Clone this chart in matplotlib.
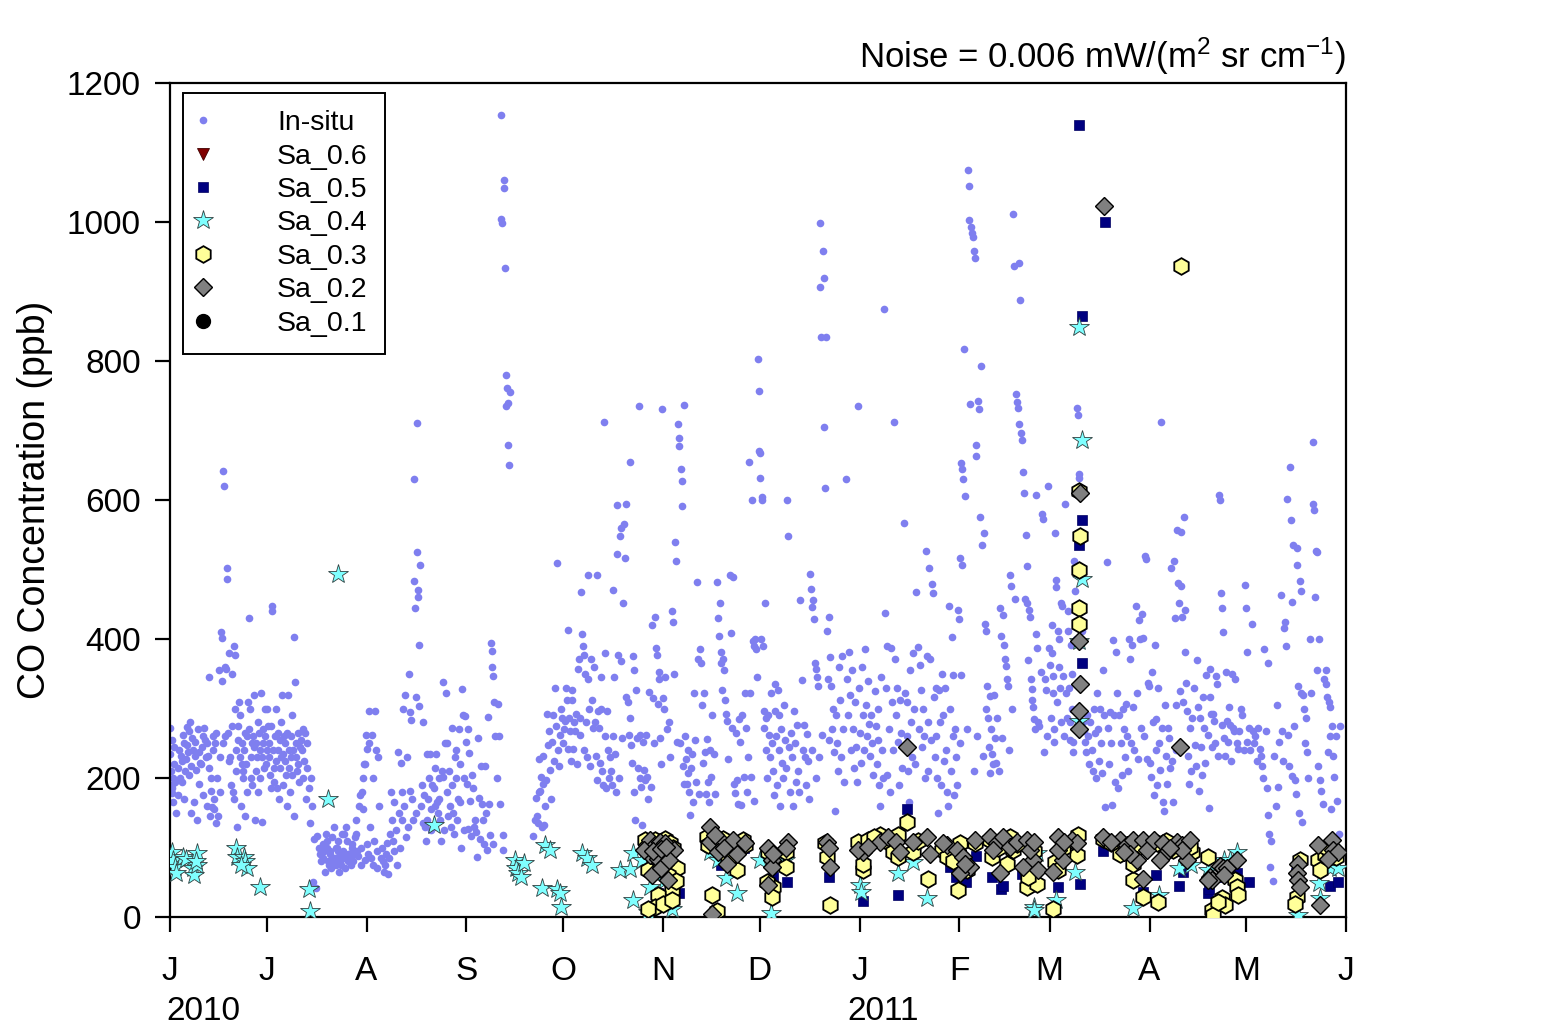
import datetime as dt
import matplotlib
matplotlib.use("Agg")
import matplotlib.pyplot as plt
import matplotlib.dates as mdates

plt.rcParams['font.family'] = ['Liberation Sans', 'DejaVu Sans']
plt.rcParams['mathtext.fontset'] = 'custom'
plt.rcParams['mathtext.rm'] = 'Liberation Sans'
plt.rcParams['mathtext.it'] = 'Liberation Sans:italic'

START = dt.datetime(2010, 6, 1)
END = dt.datetime(2011, 6, 1)

# ---------------- In-situ CO (ppb): (day offset from 2010-06-01, [values that day]) ----------------
insitu_jun = [
    (0.3, [272, 235, 210, 190, 178]), (0.8, [255, 200]), (1, [185, 165, 245, 220]), (2, [195, 150, 175]),
    (3, [215, 240, 200, 232]), (4, [225, 195, 262, 170, 250]), (5, [210, 228, 248, 273]),
    (6, [238, 205, 268, 280, 150]), (7, [218, 258, 240, 165]), (8, [232, 252, 212, 140]),
    (9, [270, 238, 192, 222]), (10, [220, 245, 260, 175]), (11, [272, 255, 230, 160]),
    (12, [250, 232, 215, 346, 145]), (13, [200, 182, 158, 240, 260]), (14, [155, 170, 250, 265, 135]),
    (15, [200, 145, 355, 230]), (16, [180, 410, 402, 340, 250]), (17, [642, 620, 260, 360, 357]),
    (18, [502, 487, 265, 225, 380]), (19, [230, 190, 350, 275]), (20, [180, 170, 390, 377, 300, 210]),
    (21, [240, 130, 275, 255, 309]), (22, [230, 290, 160, 220, 250]), (23, [210, 200, 240, 265, 145]),
    (24, [220, 180, 260, 310, 431]), (25, [270, 300, 230, 200, 250]), (26, [190, 260, 245, 320, 140]),
    (27, [250, 210, 230, 280, 180]), (28, [265, 240, 200, 323, 137]), (29, [230, 250, 270, 215, 300]),
]
insitu_jul = [
    (30, [260, 220, 300, 240, 275]), (31, [230, 250, 205, 275, 185]), (32, [447, 440, 240, 215, 195]),
    (33, [260, 225, 300, 185, 265]), (34, [240, 170, 215, 255, 230]), (35, [280, 319, 235, 190, 260]),
    (36, [250, 225, 205, 265, 160]), (37, [320, 240, 215, 180, 230]), (38, [260, 205, 290, 240, 145]),
    (39, [403, 338, 250, 230, 210]), (40, [265, 220, 195, 245]), (41, [255, 240, 200, 270]),
    (42, [225, 265, 170, 250]), (43, [215, 185, 135]), (44, [200, 160, 50]), (45, [112, 42]),
    (46, [117, 100]), (47, [90, 80, 105]), (48, [85, 95, 65, 120]), (49, [100, 110, 80, 75]),
    (50, [90, 95, 70, 115, 85]), (51, [80, 130, 85, 100]), (52, [75, 100, 95, 110, 65]),
    (53, [90, 80, 75, 120]), (54, [95, 85, 120, 70]), (55, [130, 110, 80, 90]), (56, [90, 85, 75, 105]),
    (57, [100, 80, 90, 115]), (58, [140, 120, 95, 88]), (59, [160, 175, 100, 75]),
    (60, [180, 200, 155, 220, 82]),
]
insitu_aug = [
    (61, [220, 262, 242, 105, 90]), (62, [297, 250, 130, 85]), (63, [262, 200, 75, 110]),
    (64, [297, 240, 95, 70]), (65, [230, 160, 85]), (66, [100, 80, 65]), (67, [75, 90, 107]),
    (68, [62, 85, 120]), (69, [180, 140, 110, 95]), (70, [165, 125, 75]), (71, [237, 150, 100]),
    (72, [222, 180, 140, 300]), (73, [160, 320, 115]), (74, [230, 130, 350, 182]),
    (75, [295, 283, 170, 140]), (76, [631, 483, 444, 317, 150]), (77, [711, 525, 470, 460, 392, 303]),
    (78, [507, 160, 190, 135]), (79, [281, 175, 130, 110]), (80, [235, 140, 170, 200]),
    (81, [235, 155, 125, 190]), (82, [130, 185, 215, 160]), (83, [235, 165, 150, 200]),
    (84, [170, 140, 110, 210]), (85, [338, 202, 125, 250]), (86, [322, 250, 180, 145]),
    (87, [210, 160, 130, 272]), (88, [190, 150, 120, 230]), (89, [240, 200, 140, 170]),
    (90, [270, 220, 165, 100]), (91, [328, 290, 200, 125]),
]
insitu_sep = [
    (92, [289, 252, 192, 127]), (93, [271, 236, 167, 116]), (94, [205, 186, 130]), (95, [140, 122, 87]),
    (96, [257, 172, 112]), (97, [218, 163, 140, 105]), (98, [218, 150, 97]), (99, [288, 162, 118]),
    (100, [395, 383, 360, 347, 105]), (101, [310, 260, 200]), (102, [306, 260, 162]),
    (103, [1154, 1004, 998, 118, 97]), (104, [1060, 1049, 934, 735, 780]), (105, [761, 740, 679, 650, 756]),
    (113, [117, 140]), (114, [172, 145, 135, 227]), (115, [180, 182, 202, 130]),
    (116, [231, 192, 132, 160]), (117, [197, 292, 247]), (118, [267, 212, 170]), (119, [252, 290, 225]),
    (120, [330, 275, 510, 240]), (121, [217, 262, 300]),
]
insitu_oct = [
    (122, [287, 250, 270]), (123, [282, 330, 312, 242]), (124, [413, 287, 267, 225]),
    (125, [312, 327, 242, 280]), (126, [267, 292, 220]), (127, [357, 372, 262, 287]),
    (128, [468, 407, 390, 240]), (129, [377, 350, 280, 230]), (130, [492, 342, 300, 217]),
    (131, [372, 312, 272]), (132, [360, 280, 232, 197]), (133, [492, 297, 272, 222]),
    (134, [345, 300, 210, 190]), (135, [712, 380, 260, 185]), (136, [297, 240, 200]),
    (137, [230, 210, 190, 260]), (138, [470, 345, 235, 180]), (139, [593, 522, 377, 200]),
    (140, [548, 560, 368, 257]), (141, [452, 565, 516, 317]), (142, [594, 310, 262]),
    (143, [655, 287, 247, 222]), (144, [375, 355, 180, 140]), (145, [326, 257, 215]),
    (146, [736, 262, 200, 187, 132]), (147, [252, 212, 197]), (148, [262, 202, 170]),
    (149, [324, 187]), (150, [420, 315, 250]), (151, [432, 387, 377, 307]), (152, [352, 342, 257, 220]),
]
insitu_nov = [
    (153, [731, 315, 300]), (154, [345, 270]), (155, [280, 230]), (156, [440, 425, 350]),
    (157, [540, 512, 252]), (158, [709, 690, 678, 250]), (159, [645, 627, 592, 217, 192]),
    (160, [737, 260, 227, 192]), (161, [207, 240, 180, 147]), (162, [215, 235, 165]),
    (163, [322, 255, 195]), (164, [482, 372, 177]), (165, [385, 365, 305, 222]), (166, [322, 237, 177]),
    (167, [256, 195, 165]), (168, [240, 202, 291]), (169, [235, 177]), (170, [482, 430, 405]),
    (171, [452, 382, 365, 327]), (172, [372, 355, 312]), (173, [292, 282, 227]), (174, [492, 409, 272]),
    (175, [489, 192, 178]), (176, [265, 197, 162]), (177, [285, 252, 161]), (178, [290, 202, 322]),
    (179, [272, 180, 230]), (180, [655, 322, 202]), (181, [600, 397, 390, 167]), (182, [400, 385, 345]),
]
insitu_dec = [
    (183, [803, 757, 670, 667, 632, 400]), (184, [605, 600, 390, 297, 272]), (185, [452, 287, 240, 200]),
    (186, [290, 262, 230]), (187, [322, 250, 210, 175]), (188, [335, 297, 260, 190]),
    (189, [327, 290, 240, 160]), (190, [270, 222, 200]), (191, [305, 255, 215]),
    (192, [600, 548, 245, 180]), (193, [265, 230, 160]), (194, [297, 250, 195]), (195, [277, 210, 180]),
    (196, [456, 341, 240]), (197, [277, 230, 190]), (198, [263, 225, 170]), (199, [493, 472, 446, 240]),
    (200, [456, 429, 365, 200]), (201, [357, 345, 333, 230]), (202, [998, 907, 834, 262]),
    (203, [958, 919, 705, 617]), (204, [834, 411, 342, 255]), (205, [432, 374, 333, 270]),
    (206, [300, 237, 152]), (207, [290, 250, 210]), (208, [360, 312, 230]), (209, [375, 270, 195]),
    (210, [631, 342, 290]), (211, [382, 320, 240]), (212, [355, 270, 215]), (213, [310, 245, 195]),
]
insitu_jan = [
    (214, [735, 330, 265, 222]), (215, [360, 290, 240]), (216, [385, 305, 260]), (217, [340, 278, 232]),
    (218, [290, 250, 205]), (219, [325, 275, 220]), (220, [300, 255, 190, 160]), (221, [345, 240, 200]),
    (222, [875, 437, 330, 205]), (223, [390, 270, 180]), (224, [387, 310, 240]), (225, [712, 372, 290]),
    (226, [330, 252, 190]), (227, [313, 265, 215]), (228, [567, 323, 245]), (229, [310, 260, 210, 165]),
    (230, [355, 280, 230]), (231, [380, 300, 220]), (232, [468, 388, 270]), (233, [362, 327, 245]),
    (234, [300, 260, 200]), (235, [527, 375, 280, 210]), (236, [502, 371, 255]),
    (237, [479, 466, 316, 230]), (238, [330, 260, 200, 150]), (239, [326, 280, 190]),
    (240, [350, 290, 225]), (241, [330, 240, 180, 160]), (242, [447, 300, 210]),
    (243, [403, 348, 260, 175]), (244, [270, 230, 190]),
]
insitu_feb = [
    (245, [442, 429, 250, 348]), (245.5, [517, 507]), (246, [654, 645, 630, 818]), (247, [606, 270]),
    (248, [1075, 1052, 1003, 738]), (249, [993, 984, 978, 210]), (250, [958, 948, 679, 664, 260]),
    (251, [742, 731, 575]), (252, [793, 535, 232]), (253, [552, 422, 412, 300]),
    (254, [332, 287, 245, 207]), (255, [318, 270, 235, 220]), (256, [320, 257, 222]), (257, [287, 210]),
    (258, [445, 405, 257]), (259, [435, 392, 372, 361]), (260, [342, 332, 240]),
    (261, [492, 477, 300]), (262, [1011, 937, 458]), (263, [753, 741, 733, 709]),
    (264, [941, 888, 697, 686]), (265, [641, 610, 458]), (266, [550, 505, 452, 370]),
    (267, [442, 432, 342, 328]), (268, [313, 302, 285, 270]), (269, [607, 407, 387, 280]),
    (270, [275, 352]), (271, [580, 573, 237]), (272, [342, 327, 260]),
]
insitu_mar = [
    (273, [620, 387, 362, 287]), (274, [420, 380, 347, 322, 270, 252]), (275, [552, 485, 475, 310]),
    (276, [412, 400, 360, 330, 280]), (277, [452, 447, 347, 260]), (278, [595, 322, 287]),
    (279, [440, 412, 330, 280, 255]), (280, [392, 350, 300, 252, 237]), (281, [512, 469, 400]),
    (282, [733, 722, 637, 632, 392]), (283, [502, 412, 280]), (284, [267, 252, 237]),
    (285, [290, 260, 220]), (286, [280, 240, 210]), (287, [300, 265, 200]), (288, [322, 270, 225]),
    (289, [300, 250, 207]), (290, [355, 290, 158]), (291, [511, 272, 220]), (292, [295, 250, 161]),
    (293, [398, 290, 195]), (294, [382, 322, 185]), (295, [290, 250, 205]), (296, [300, 270, 230]),
    (297, [307, 260, 210]), (298, [400, 372, 250]), (299, [392, 302, 240]), (300, [447, 322, 227]),
    (301, [427, 400, 272]), (302, [436, 402, 260]), (303, [520, 515, 227]),
]
insitu_apr = [
    (304, [337, 332, 222, 202]), (305, [352, 280, 175]), (306, [392, 285, 240, 190]),
    (307, [330, 250, 212]), (308, [712, 272, 165, 152]), (309, [305, 232, 192]), (310, [272, 257, 215]),
    (311, [502, 225, 165]), (312, [512, 430, 305, 240]), (313, [557, 481, 452, 325]),
    (314, [554, 477, 432, 310]), (315, [576, 442, 382, 337]), (316, [297, 232, 192]),
    (317, [272, 210, 287]), (318, [330, 247, 217]), (319, [370, 302, 182]), (320, [287, 245, 205]),
    (321, [317, 272, 222]), (322, [348, 262, 157]), (323, [357, 316, 292, 245]), (324, [292, 282, 250]),
    (325, [347, 335, 232]), (326, [607, 600, 466, 277]), (327, [445, 410, 257, 232]),
    (328, [352, 282, 252]), (329, [302, 277, 225]), (330, [350, 272, 267]), (331, [342, 250, 242]),
    (332, [268, 300]), (333, [290, 240]),
]
insitu_may = [
    (334, [478, 445, 382, 252]), (335, [272, 240]), (336, [422, 267, 250]), (337, [260, 225]),
    (338, [272, 242]), (339, [232, 217, 200]), (340, [385, 267, 185]), (341, [365, 147, 120, 72]),
    (342, [110, 52]), (343, [232, 160]), (344, [305, 187, 252]), (345, [463, 267, 225]),
    (346, [416, 425, 390]), (347, [601, 262, 217]), (348, [648, 571, 454, 203]),
    (349, [535, 275, 197, 177]), (350, [531, 506, 332, 150]), (351, [484, 469, 322, 137]),
    (352, [320, 300, 250]), (353, [287, 237, 200]), (354, [400, 322]), (355, [684, 595, 585, 460]),
    (356, [527, 525, 356, 217]), (357, [400, 197, 182]), (358, [162, 343]),
    (359, [356, 335, 317, 237]), (360, [310, 302, 260, 155]), (361, [275, 232, 202]),
    (362, [260, 167]), (363, [120, 275]),
]

# ---------------- Retrievals: (day offset, value ppb) ----------------
sa06 = []
sa05 = [(151.5, 35), (156, 52), (157, 57), (158, 35), (155, 70), (171, 75), (178, 100), (187, 57),
        (191.5, 50), (204.5, 57), (215, 23), (226, 31), (228.7, 155), (244, 57), (247, 50), (250, 88),
        (255, 57), (258, 40), (264.5, 62), (242, 72), (258.5, 44), (275.5, 43), (282.5, 47),
        (282, 1140), (283, 865), (290.3, 1000), (283, 571), (282, 536), (283, 366), (289.5, 95),
        (298.5, 79), (302, 36), (306, 60), (313, 45), (314.5, 65), (322, 35), (322.5, 41), (326.5, 57),
        (331, 64), (335, 50), (349.5, 64), (360, 45), (362.5, 50)]
sa04 = [(0.7, 94), (0.9, 82), (1.5, 72), (2, 63), (4, 87), (5, 84), (7, 70), (7.3, 60), (8.3, 92),
        (8.5, 75), (8, 80), (20.5, 99), (20.8, 87), (23, 87), (23.3, 80), (24, 70), (22, 75), (28, 43),
        (43, 40), (43.5, 9), (49, 170), (52, 493), (82, 132), (107, 82), (107.5, 70), (108, 63),
        (109, 58), (110, 78), (115.5, 42), (116.5, 103), (118, 96), (120, 40), (121, 35), (121.3, 15),
        (128, 92), (129.5, 85), (131, 75), (139.7, 68), (142.8, 69), (143.7, 92), (143.7, 24),
        (146.5, 82), (149, 43), (148.4, 7), (150.5, 62), (155.8, 12), (153.6, 53), (167.5, 93),
        (170, 82), (172.5, 56), (176, 35), (186.5, 6), (183, 82), (191, 82), (214, 46), (214.5, 36),
        (226, 63), (230.5, 79), (235, 27), (268, 15), (268.2, 10), (269, 92), (275, 25), (281, 65),
        (282, 849), (283, 686), (283, 487), (282, 397), (282, 282), (299, 13), (307, 32), (313, 70),
        (317, 75), (322, 67), (327, 82), (329, 82), (331, 93), (350, 3), (357, 27), (356.5, 49),
        (360, 70), (362.5, 70)]
sa03 = [(147.4, 111), (150.5, 111), (153.6, 113), (155.2, 106), (156, 99), (157.2, 70), (155.7, 39),
        (151.5, 31), (150.5, 15), (153, 19), (155.7, 24), (148.4, 67), (153.6, 87), (151.5, 101),
        (149, 95), (152, 80), (154.5, 60), (148.5, 12), (157, 52),
        (166.6, 115), (167, 103), (168.2, 31), (169.7, 8), (176, 67), (173.3, 84), (177.9, 111),
        (171.7, 113), (169.3, 106), (175, 100), (178.5, 104),
        (185.6, 94), (187.2, 43), (186.7, 29), (191.3, 94), (191.3, 72), (185.3, 50),
        (203.9, 87), (204.9, 17), (203.3, 106),
        (213.6, 108), (215.2, 67), (215.2, 77), (216.7, 111), (220.4, 118), (222.8, 108), (226, 118),
        (224.4, 94), (226, 86), (228.7, 137), (230.6, 94), (235.3, 55), (218.5, 115), (232, 110),
        (239.6, 96), (241.2, 87), (245.2, 106), (244.7, 39), (247.3, 67), (249.9, 106), (243, 80),
        (254.5, 111), (255, 87), (259.8, 77), (261.6, 96), (265.9, 43), (269, 48), (266.4, 58),
        (260.7, 115), (263, 105), (257, 100), (268, 95),
        (274, 12), (274.7, 79), (275.7, 67), (281.5, 89), (281.9, 118), (277, 100),
        (282.2, 613), (282.5, 548), (282.2, 500), (282, 445), (282.2, 421),
        (289.6, 113), (294.8, 91), (298.9, 53), (302, 29), (306.6, 22), (298.9, 77), (292, 106), (300, 100),
        (306.3, 106), (311.3, 96), (317.2, 94), (316.6, 101), (309, 110), (313, 104), (313.8, 937),
        (322.2, 87), (323.3, 10), (323.8, 3), (326.5, 27), (327.5, 17), (325.3, 22), (330.5, 53),
        (331.2, 43), (331.5, 31),
        (350.7, 82), (349.8, 29), (349.2, 19), (356.4, 82), (356.9, 67), (358.5, 89), (360, 94),
        (362, 87), (359, 100)]
sa02 = [(148, 103), (149, 111), (150.5, 103), (152, 108), (153.5, 106), (155, 94), (156.5, 96),
        (149, 89), (151.5, 84), (153.5, 77), (149.5, 60), (154.5, 53), (152.5, 70), (155, 82), (147, 97),
        (150, 95), (152.5, 98), (154, 101),
        (167.6, 130), (167.6, 108), (170.7, 111), (174.4, 106), (176, 91), (170.2, 94), (172.8, 77),
        (174.8, 111), (168.2, 5), (178.4, 106), (172, 100), (169, 118),
        (185.6, 99), (186.7, 82), (186.7, 72), (185.6, 46), (191.7, 108), (191.3, 99), (187.2, 90),
        (203.9, 108), (204.9, 72), (204.5, 99),
        (215.2, 94), (220.4, 108), (222.8, 115), (225.4, 108), (226.5, 94), (230.6, 108), (234.9, 115),
        (235.9, 91), (213.6, 96), (216.7, 101), (228.7, 245),
        (241.2, 103), (244.2, 96), (246.2, 87), (248.3, 72), (249.9, 111), (245.2, 63), (246.7, 77),
        (239.8, 106),
        (254.5, 115), (256.6, 106), (258.6, 115), (260.7, 101), (262.8, 108), (265.9, 111), (267.9, 82),
        (266.9, 96), (257.6, 63), (264.7, 72), (268, 108), (269.5, 67), (255.5, 97),
        (274, 65), (275.7, 115), (277.3, 82), (275.7, 96), (279.9, 111), (281.5, 106), (277.5, 108),
        (282.4, 610), (282.2, 397), (282.5, 335), (282, 297), (282.2, 271), (290, 1023),
        (289.6, 115), (294.8, 111), (297, 103), (298.9, 111), (302, 111), (300, 82), (302, 55),
        (303.2, 96), (298, 91), (292, 108), (296, 94),
        (305.3, 111), (308.3, 106), (309.4, 94), (312.5, 108), (314, 103), (316.6, 111), (307.3, 82),
        (315.6, 82), (314, 96), (310.5, 100), (313.5, 245),
        (322.8, 58), (323.3, 53), (325.9, 74), (326.8, 70), (328, 70), (331.2, 82), (322.2, 53), (327, 60),
        (350.2, 77), (349.8, 63), (350.2, 53), (350.7, 43), (356.4, 103), (360.6, 111), (361, 96),
        (362.5, 94), (356.9, 17), (359.5, 84)]
sa01 = []

month_letters = ['J', 'J', 'A', 'S', 'O', 'N', 'D', 'J', 'F', 'M', 'A', 'M', 'J']
year_labels = ['2010', '2011']


def expand_daily(groups):
    xs, ys = [], []
    for d, vals in groups:
        n = len(vals)
        for i, v in enumerate(vals):
            xs.append(START + dt.timedelta(days=d + (i + 0.5) / n - 0.5))
            ys.append(v)
    return xs, ys


def expand_pts(pts):
    return ([START + dt.timedelta(days=d) for d, _ in pts], [v for _, v in pts])


fig = plt.figure(figsize=(15.44, 10.32), dpi=100)
ax = fig.add_axes([0.1101, 0.1114, 0.7617, 0.8081])

ins_x, ins_y = expand_daily(insitu_jun + insitu_jul + insitu_aug + insitu_sep + insitu_oct +
                            insitu_nov + insitu_dec + insitu_jan + insitu_feb + insitu_mar +
                            insitu_apr + insitu_may)

ax.plot(ins_x, ins_y, ls='none', marker='o', ms=5.5, mfc='#7F7FEF', mec='none', label='In-situ', zorder=2)
x, y = expand_pts(sa06)
ax.plot(x, y, ls='none', marker='v', ms=8, mfc='#800000', mec='#400000', mew=0.6, label='Sa_0.6', zorder=3)
x, y = expand_pts(sa05)
ax.plot(x, y, ls='none', marker='s', ms=7, mfc='#000080', mec='#000060', mew=0.5, label='Sa_0.5', zorder=4)
x, y = expand_pts(sa04)
ax.plot(x, y, ls='none', marker='*', ms=15, mfc='#7FFFFF', mec='#2F3F3F', mew=0.6, label='Sa_0.4', zorder=5)
x, y = expand_pts(sa03)
ax.plot(x, y, ls='none', marker='h', ms=12, mfc='#FFFF99', mec='black', mew=1.3, label='Sa_0.3', zorder=6)
x, y = expand_pts(sa02)
ax.plot(x, y, ls='none', marker='D', ms=9, mfc='#808080', mec='black', mew=1.0, label='Sa_0.2', zorder=7)
x, y = expand_pts(sa01)
ax.plot(x, y, ls='none', marker='o', ms=10, mfc='black', mec='black', label='Sa_0.1', zorder=8)

ax.set_xlim(mdates.date2num(START), mdates.date2num(END))
ax.set_ylim(0, 1200)
ax.set_yticks([0, 200, 400, 600, 800, 1000, 1200])

month_starts = [dt.datetime(2010 + (5 + k) // 12, (5 + k) % 12 + 1, 1) for k in range(13)]
ax.set_xticks([mdates.date2num(m) for m in month_starts])
ax.set_xticklabels(month_letters)

for s in ax.spines.values():
    s.set_linewidth(1.6)
ax.tick_params(axis='both', direction='out', length=11, width=1.6, labelsize=24,
               top=False, right=False)
ax.tick_params(axis='y', pad=10)
ax.tick_params(axis='x', pad=17)
ax.set_ylabel('CO Concentration (ppb)', fontsize=27, labelpad=10)

fig.text(203 / 1544, 1 - 1012 / 1032, year_labels[0], ha='center', va='center', fontsize=24)
fig.text(883 / 1544, 1 - 1012 / 1032, year_labels[1], ha='center', va='center', fontsize=24)

ax.text(1.0, 1.018, 'Noise = 0.006 mW/(m$^{2}$ sr cm$^{-1}$)', transform=ax.transAxes,
        ha='right', va='baseline', fontsize=25)

leg = ax.legend(loc='upper left', bbox_to_anchor=(0.011, 0.988), borderaxespad=0,
                frameon=True, fancybox=False, framealpha=1, edgecolor='black',
                fontsize=20.5, handlelength=0.2, handletextpad=2.5, borderpad=0.6,
                labelspacing=0.26, numpoints=1)
leg.get_frame().set_linewidth(1.4)

fig.savefig('out.png', dpi=100)
